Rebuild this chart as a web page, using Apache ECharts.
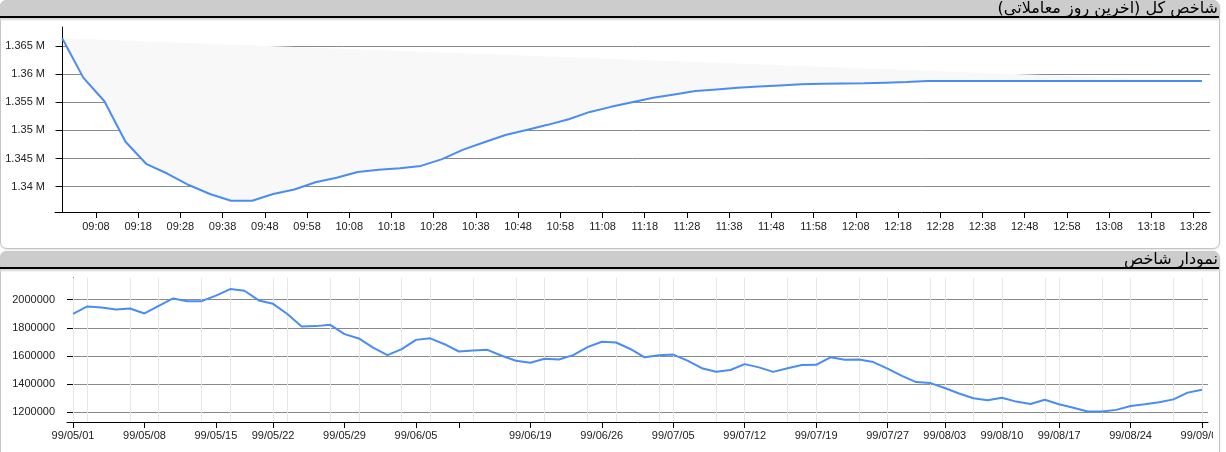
<!DOCTYPE html>
<html><head><meta charset="utf-8">
<script src="https://cdn.jsdelivr.net/npm/echarts@6/dist/echarts.min.js"></script>
<style>
html,body{margin:0;padding:0;background:#fff;width:1226px;height:452px;overflow:hidden;}
.panel{position:absolute;left:0;width:1218px;border:1px solid #c4c4c4;border-radius:7px;background:#fff;box-shadow:0 1px 2px rgba(0,0,0,0.12);}
.hdr{position:absolute;left:0;width:1219px;height:16px;background:#cccccc;border-bottom:2px solid #000;border-radius:6px 6px 0 0;box-shadow:0 2px 2px #d6d6d6;direction:rtl;text-align:right;font:16px Tahoma,"DejaVu Sans",sans-serif;line-height:16px;color:#000;white-space:nowrap;overflow:hidden;z-index:2;}
.hdr span{padding-right:1px;}
.clip{position:absolute;left:0;overflow:hidden;}
.chart{position:absolute;left:0;top:0;}
</style></head>
<body>
<div class="panel" style="top:0;height:247px"></div>
<div class="panel" style="top:251px;height:230px"></div>
<div class="hdr" style="top:0"><span>شاخص کل (آخرین روز معاملاتی)</span></div>
<div class="hdr" style="top:251px"><span>نمودار شاخص</span></div>
<div class="clip" style="top:0;width:1214px;height:248px"><div id="c1" class="chart" style="width:1214px;height:248px"></div></div>
<div class="clip" style="top:270px;width:1213px;height:182px"><div id="c2" class="chart" style="width:1240px;height:182px"></div></div>
<script>
// ---------- Top chart: last trading day (intraday) ----------
const intradayTimes = ['09:00','09:05','09:10','09:15','09:20','09:25','09:30','09:35','09:40','09:45',
  '09:50','09:55','10:00','10:05','10:10','10:15','10:20','10:25','10:30','10:35',
  '10:40','10:45','10:50','10:55','11:00','11:05','11:10','11:15','11:20','11:25',
  '11:30','11:35','11:40','11:45','11:50','11:55','12:00','12:05','12:10','12:15',
  '12:20','12:25','12:30','12:35','12:40','12:45','12:50','12:55','13:00','13:05',
  '13:10','13:15','13:20','13:25','13:30'];
const intradayIndex = [1366400,1359400,1355200,1348000,1344000,1342300,1340300,1338700,1337500,1337500,
  1338700,1339500,1340800,1341600,1342600,1343000,1343300,1343700,1344900,1346600,
  1347900,1349200,1350100,1351000,1352000,1353300,1354200,1355000,1355800,1356400,
  1357000,1357300,1357600,1357800,1358000,1358200,1358300,1358350,1358400,1358500,
  1358600,1358800,1358800,1358800,1358800,1358800,1358800,1358800,1358800,1358800,
  1358800,1358800,1358800,1358800,1358800];
const envelopeTimes = ['09:00','13:30'];
const envelopeValues = [1366400,1358800];
const timeTickLabels = ['09:08','09:18','09:28','09:38','09:48','09:58','10:08','10:18','10:28','10:38',
  '10:48','10:58','11:08','11:18','11:28','11:38','11:48','11:58','12:08','12:18',
  '12:28','12:38','12:48','12:58','13:08','13:18','13:28'];
const intradayYTicks = [1340000,1345000,1350000,1355000,1360000,1365000];

// ---------- Bottom chart: index history ----------
const dailyIndex = [1900000,1952000,1945000,1931000,1938000,1902000,1957000,2009000,1990000,1990000,
  2029000,2076000,2064000,1995000,1971000,1898000,1809000,1812000,1821000,1755000,
  1724000,1659000,1605000,1648000,1714000,1725000,1683000,1631000,1638000,1643000,
  1601000,1565000,1551000,1579000,1574000,1605000,1662000,1701000,1695000,1649000,
  1590000,1605000,1609000,1566000,1512000,1487000,1499000,1541000,1518000,1486000,
  1512000,1535000,1536000,1590000,1573000,1574000,1556000,1509000,1457000,1413000,
  1406000,1371000,1332000,1298000,1283000,1301000,1274000,1257000,1287000,1255000,
  1230000,1204000,1204000,1215000,1243000,1255000,1269000,1290000,1338000,1359000];
const dateTickIndex = [0,5,10,14,19,24,27,32,37,42,47,52,57,61,65,69,74,79];
const dateTickLabels = ['99/05/01','99/05/08','99/05/15','99/05/22','99/05/29','99/06/05','','99/06/19','99/06/26',
  '99/07/05','99/07/12','99/07/19','99/07/27','99/08/03','99/08/10','99/08/17','99/08/24','99/09/01'];
const minorGridIndex = [0,1,4,6,9,11,14,15,18,20,23,25,28,31,33,36,38,41,42,45,47,50,52,55,57,60,61,63,65,68,69,72,74,77,79];
const dailyYTicks = [1200000,1400000,1600000,1800000,2000000];

// ---------- helpers ----------
const toMin = s => { const p = s.split(':'); return (+p[0]) * 60 + (+p[1]) - 540; };
const fmtMin = v => { const t = Math.round(v) + 540; const h = Math.floor(t / 60), m = t % 60; return (h < 10 ? '0' : '') + h + ':' + (m < 10 ? '0' : '') + m; };
const LINE = '#4a8df0';
const FONT = 'Arial, "Liberation Sans", sans-serif';
const axisTxt = { fontSize: 11, color: '#222', fontFamily: FONT };

const intradayData = intradayTimes.map((t, i) => [toMin(t), intradayIndex[i]]);
const envelopeData = envelopeTimes.map((t, i) => [toMin(t), envelopeValues[i]]);
const timeTicks = timeTickLabels.map(toMin);

const c1 = echarts.init(document.getElementById('c1'), null, { renderer: 'canvas' });
c1.setOption({
  animation: false,
  grid: { left: 55, top: 27, right: 4, bottom: 36 },
  xAxis: {
    type: 'value', min: -1.7, max: 271.9,
    axisLine: { show: true, lineStyle: { color: '#000', width: 1 } },
    axisTick: { show: true, length: 6, lineStyle: { color: '#000' }, customValues: timeTicks },
    axisLabel: Object.assign({ customValues: timeTicks, margin: 9, formatter: v => fmtMin(v) }, axisTxt),
    splitLine: { show: false }
  },
  yAxis: {
    type: 'value', min: 1335500, max: 1368400,
    axisLine: { show: true, lineStyle: { color: '#000', width: 1 } },
    axisTick: { show: true, length: 6, lineStyle: { color: '#000' }, customValues: intradayYTicks },
    axisLabel: Object.assign({ customValues: intradayYTicks, margin: 10,
      formatter: v => (Math.round(v / 1000) / 1000) + ' M' }, axisTxt),
    splitLine: { show: true, lineStyle: { color: '#8a8a8a', width: 1 } }
  },
  series: [
    {
      type: 'custom', silent: true, z: 1,
      data: [envelopeData[0]],
      renderItem: function (params, api) {
        const pts = intradayData.map(d => api.coord(d));
        for (let i = envelopeData.length - 1; i >= 0; i--) pts.push(api.coord(envelopeData[i]));
        return { type: 'polygon', shape: { points: pts }, style: { fill: '#f8f8f8' } };
      }
    },
    {
      type: 'line', data: intradayData, symbol: 'none', z: 3,
      lineStyle: { color: LINE, width: 2 }
    }
  ]
});

const dailyData = dailyIndex.map((v, i) => [i, v]);
const c2 = echarts.init(document.getElementById('c2'), null, { renderer: 'canvas' });
c2.setOption({
  animation: false,
  grid: { left: 67, top: 8, right: 32, bottom: 30 },
  xAxis: {
    type: 'value', min: -0.42, max: dailyIndex.length - 1 + 0.42,
    axisLine: { show: true, lineStyle: { color: '#000', width: 1 } },
    axisTick: { show: true, length: 6, lineStyle: { color: '#000' }, customValues: dateTickIndex },
    axisLabel: Object.assign({ customValues: dateTickIndex, margin: 8,
      formatter: v => { const k = dateTickIndex.indexOf(Math.round(v)); return k >= 0 ? dateTickLabels[k] : ''; } }, axisTxt),
    splitLine: { show: false }
  },
  yAxis: {
    type: 'value', min: 1128600, max: 2155000,
    axisLine: { show: true, lineStyle: { color: '#000', width: 1 } },
    axisTick: { show: true, length: 6, lineStyle: { color: '#000' }, customValues: dailyYTicks },
    axisLabel: Object.assign({ customValues: dailyYTicks, margin: 12, formatter: v => String(v) }, axisTxt),
    splitLine: { show: true, lineStyle: { color: '#8a8a8a', width: 1 } }
  },
  series: [
    {
      type: 'line', data: [], z: 1, silent: true,
      markLine: {
        silent: true, symbol: 'none', z: 1, animation: false,
        label: { show: false },
        lineStyle: { color: '#e6e6e6', type: 'solid', width: 1 },
        data: minorGridIndex.map(i => ({ xAxis: i }))
      }
    },
    {
      type: 'line', data: dailyData, symbol: 'none', z: 3,
      lineStyle: { color: LINE, width: 2 }
    }
  ]
});
</script>
</body></html>
